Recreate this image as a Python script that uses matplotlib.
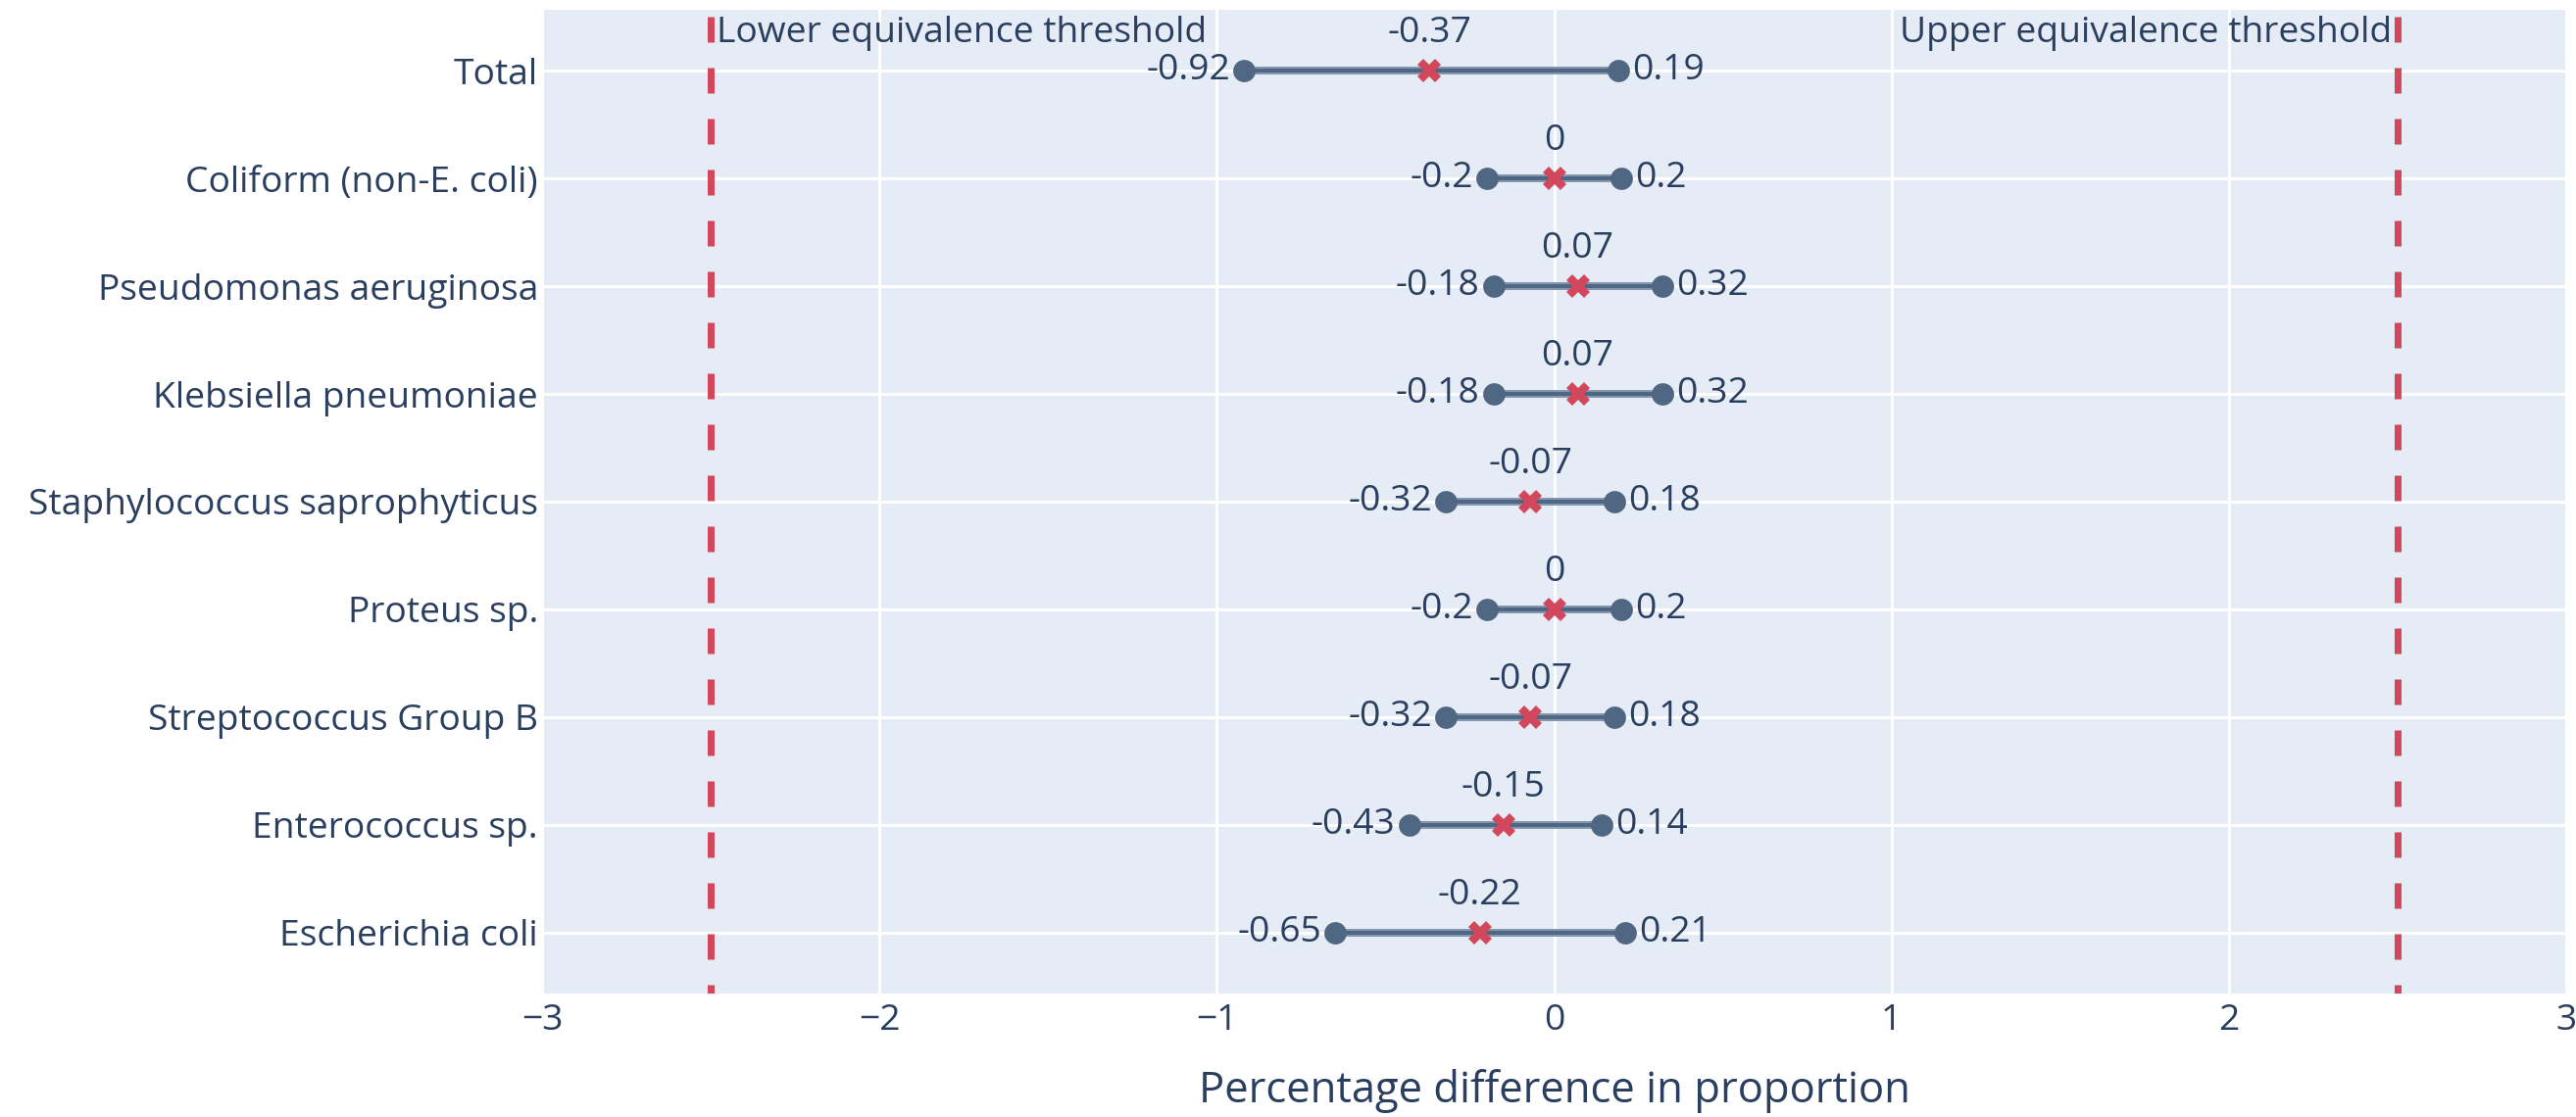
import matplotlib
matplotlib.use("Agg")
import matplotlib.pyplot as plt

categories = ["Total", "Coliform (non-E. coli)", "Pseudomonas aeruginosa",
              "Klebsiella pneumoniae", "Staphylococcus saprophyticus", "Proteus sp.",
              "Streptococcus Group B", "Enterococcus sp.", "Escherichia coli"]
lower = [-0.92, -0.2, -0.18, -0.18, -0.32, -0.2, -0.32, -0.43, -0.65]
estimate = [-0.37, 0, 0.07, 0.07, -0.07, 0, -0.07, -0.15, -0.22]
upper = [0.19, 0.2, 0.32, 0.32, 0.18, 0.2, 0.18, 0.14, 0.21]
lower_threshold = -2.5
upper_threshold = 2.5
x_ticks = [-3, -2, -1, 0, 1, 2, 3]

DPI = 200
W, H = 2628, 1140
plt.rcParams['font.family'] = ['Open Sans', 'DejaVu Sans']
plt.rcParams['lines.scale_dashes'] = False
TXT = "#2a3f5f"
BG = "#e5ecf6"
SLATE = "#506784"
RED = "#d3475c"


def px(v):
    return v * 72.0 / DPI


fig = plt.figure(figsize=(W / DPI, H / DPI), dpi=DPI)
ax = fig.add_axes([553 / W, 1 - 1014 / H, (2618 - 553) / W, (1014 - 10) / H])
ax.set_facecolor(BG)
for s in ax.spines.values():
    s.set_visible(False)

fs = 13.4
ypos = list(range(len(categories)))
ax.set_xlim(-3, 3)
ax.set_ylim(len(categories) - 1 + 0.564, -0.564)
ax.set_xticks(x_ticks)
ax.set_yticks(ypos)
ax.set_yticklabels(categories)
ax.tick_params(axis='both', length=0, labelsize=fs, colors=TXT)
ax.tick_params(axis='y', pad=px(4))
ax.tick_params(axis='x', pad=px(10))
ax.grid(True, color="white", linewidth=px(3))
ax.set_axisbelow(True)

for y, lo, est, up in zip(ypos, lower, estimate, upper):
    ax.plot([lo, up], [y, y], color="#8497ad", linewidth=px(8), zorder=3, solid_capstyle='butt')
    ax.plot([lo, up], [y, y], color=SLATE, linewidth=px(4), zorder=3, solid_capstyle='butt')
    ax.plot([lo, up], [y, y], linestyle='none', marker='o', markersize=px(20),
            color=SLATE, zorder=4)
    ax.plot([est], [y], linestyle='none', marker='X', markersize=px(24),
            color=RED, markeredgewidth=0, zorder=5)
    ax.annotate(f"{lo:g}", (lo, y), xytext=(-px(14), 0), textcoords='offset points',
                ha='right', va='center', fontsize=fs, color=TXT, zorder=6)
    ax.annotate(f"{up:g}", (up, y), xytext=(px(14), 0), textcoords='offset points',
                ha='left', va='center', fontsize=fs, color=TXT, zorder=6)
    ax.annotate(f"{est:g}", (est, y), xytext=(0, px(38)), textcoords='offset points',
                ha='center', va='center', fontsize=fs, color=TXT, zorder=6)

for xv in (lower_threshold, upper_threshold):
    ax.axvline(xv, color=RED, linewidth=px(7), linestyle=(px(17), (px(26), px(26))), zorder=2)

ax.annotate("Lower equivalence threshold", (lower_threshold, 1), xycoords=('data', 'axes fraction'),
            xytext=(px(6), -px(24)), textcoords='offset points', ha='left', va='center',
            fontsize=fs, color=TXT)
ax.annotate("Upper equivalence threshold", (upper_threshold, 1), xycoords=('data', 'axes fraction'),
            xytext=(-px(6), -px(24)), textcoords='offset points', ha='right', va='center',
            fontsize=fs, color=TXT)

fig.text((553 + 2618) / 2 / W, 1 - 1114 / H, "Percentage difference in proportion",
         ha='center', va='center', fontsize=15.7, color=TXT)

fig.savefig("out.png", dpi=DPI)
